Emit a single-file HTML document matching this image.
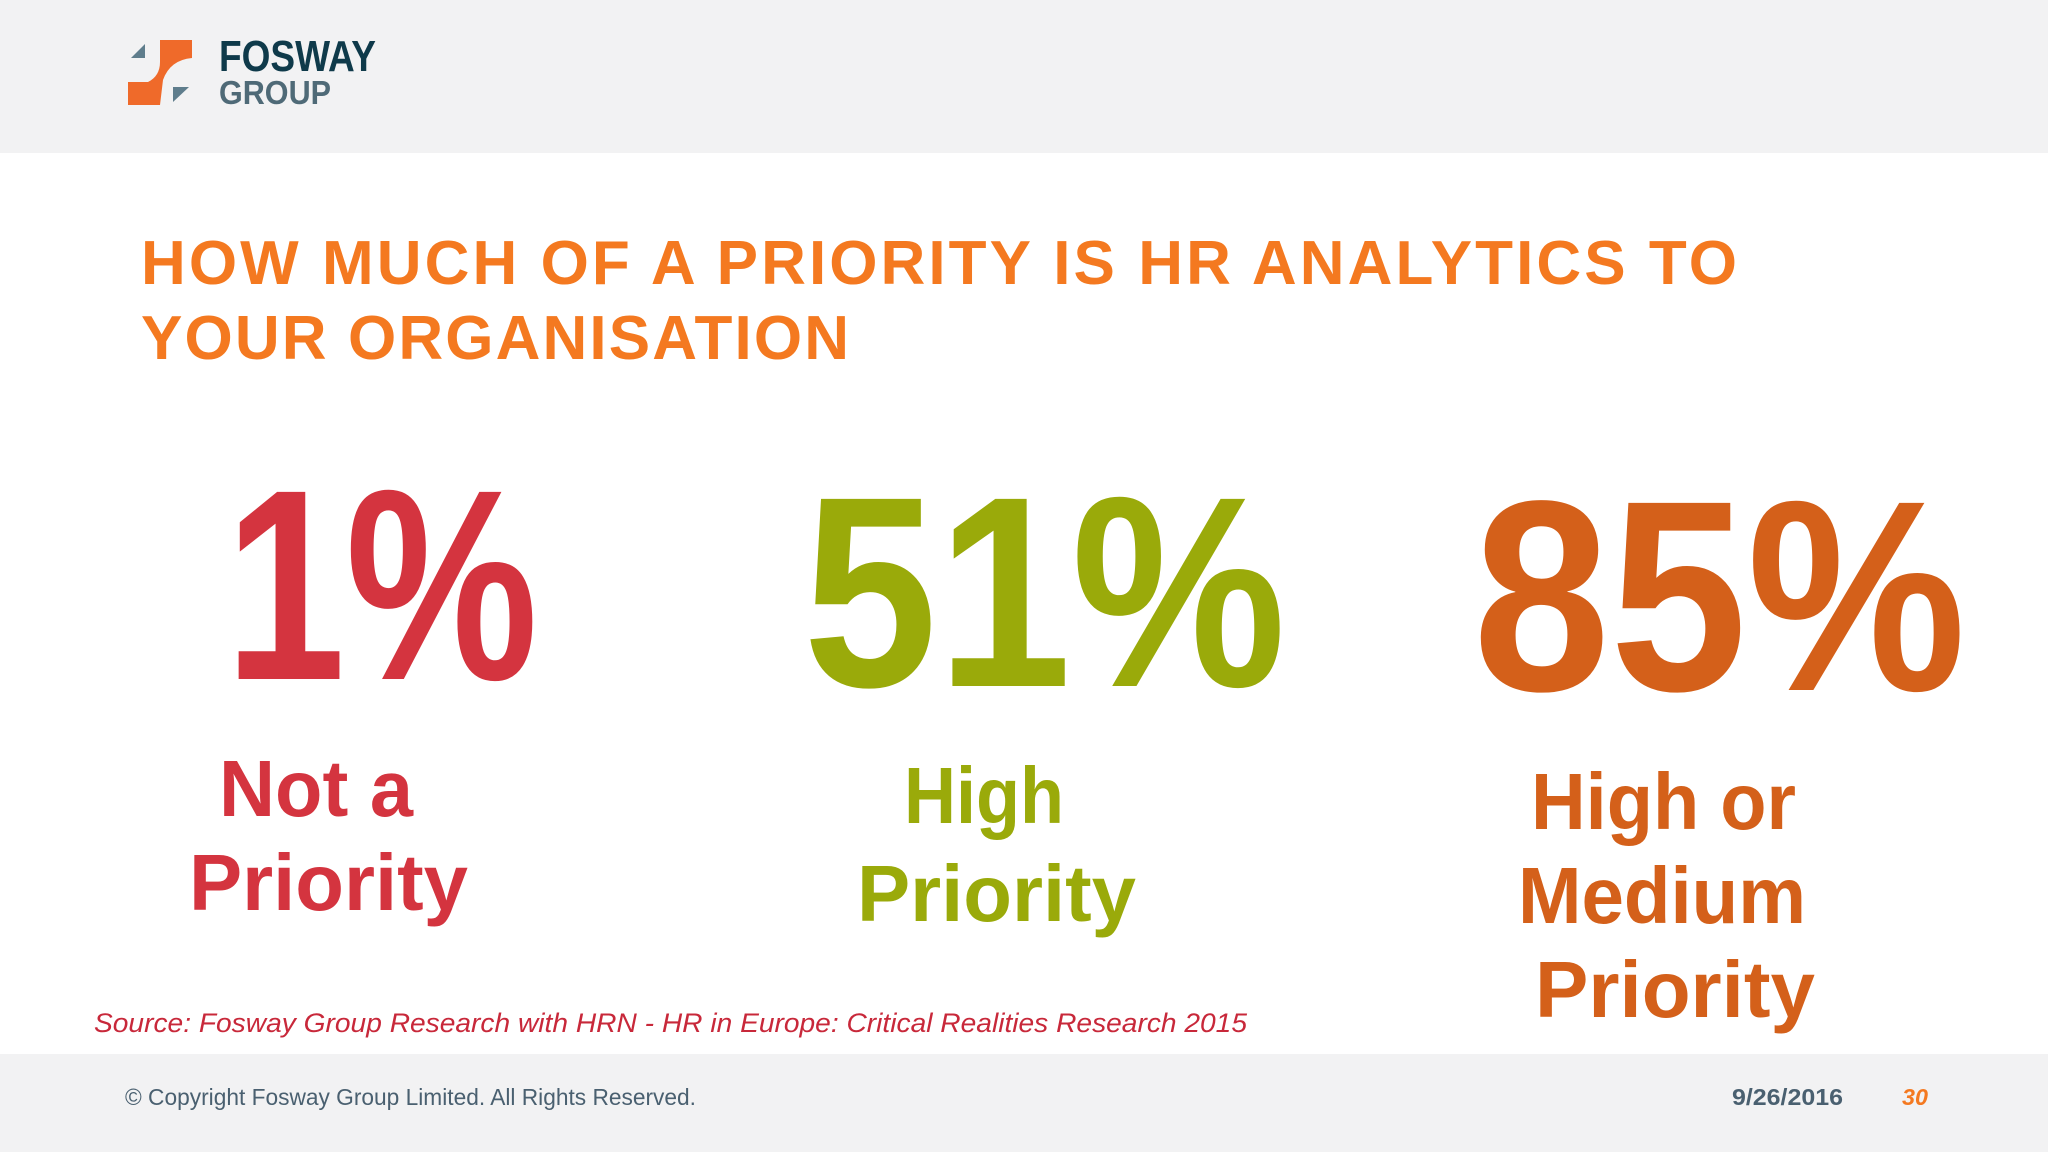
<!DOCTYPE html>
<html><head><meta charset="utf-8">
<style>
html,body{margin:0;padding:0;background:#fff;}
svg{display:block;}
</style></head>
<body>
<svg id="slide" width="2048" height="1152" viewBox="0 0 2048 1152" xmlns="http://www.w3.org/2000/svg" font-family="'Liberation Sans', sans-serif">
  <rect x="0" y="0" width="2048" height="153" fill="#f2f2f3"/>
  <rect x="0" y="1054" width="2048" height="98" fill="#f2f2f3"/>
  <g>
    <path d="M160,40 L192,40 L192,58 Q170,60 163,80 L160,105 L128,105 L128,82 L148,82 Q160,76 160,62 Z" fill="#ef6a2a"/>
    <path d="M131,58 L145,44 L145,58 Z" fill="#5f7d8c"/>
    <path d="M173,87 L189,87 L173,102 Z" fill="#5f7d8c"/>
    <text x="219" y="71" font-size="44" font-weight="bold" fill="#0f3a4a" textLength="157" lengthAdjust="spacingAndGlyphs">FOSWAY</text>
    <text x="219" y="104" font-size="33" font-weight="bold" fill="#4f6a77" textLength="112" lengthAdjust="spacingAndGlyphs">GROUP</text>
  </g>
  <g fill="#f47920" font-weight="bold" font-size="62">
    <text x="141" y="284" textLength="1596" lengthAdjust="spacing">HOW MUCH OF A PRIORITY IS HR ANALYTICS TO</text>
    <text x="141" y="359" textLength="708" lengthAdjust="spacing">YOUR ORGANISATION</text>
  </g>
  <g id="stats"></g>
  <text x="94" y="1032" font-size="27" font-style="italic" fill="#c8283a" textLength="1153" lengthAdjust="spacingAndGlyphs">Source: Fosway Group Research with HRN - HR in Europe: Critical Realities Research 2015</text>
  <text x="125" y="1105" font-size="23" fill="#4a6070" textLength="571" lengthAdjust="spacingAndGlyphs">© Copyright Fosway Group Limited. All Rights Reserved.</text>
  <text x="1732" y="1105" font-size="23" font-weight="bold" fill="#4a6070" textLength="111" lengthAdjust="spacingAndGlyphs">9/26/2016</text>
  <text x="1902" y="1105" font-size="23" font-weight="bold" font-style="italic" fill="#f47920" textLength="26" lengthAdjust="spacingAndGlyphs">30</text>
</svg>
<script>
const values = [1, 51, 85];
const labels = [["Not a","Priority"],["High","Priority"],["High or","Medium","Priority"]];
const colors = ["#d4343f","#9aaa0a","#d4601a"];
// layout (not data)
const numBox = [[225,538,679],[803,1286,686],[1473,1966,690]];
const labelBoxes = [
  [[219,413,816],[189,468,910]],
  [[904,1064,823],[857,1136,921]],
  [[1531,1796,829],[1518,1806,923],[1535,1815,1017]]
];
const NS="http://www.w3.org/2000/svg";
const g=document.getElementById('stats');
values.forEach((v,i)=>{
  const t=document.createElementNS(NS,'text');
  
  
  const b=numBox[i];
  t.setAttribute('x',b[0]);t.setAttribute('y',b[2]);
  t.setAttribute('font-size','272');t.setAttribute('font-weight','bold');
  t.setAttribute('fill',colors[i]);
  t.setAttribute('textLength',b[1]-b[0]);t.setAttribute('lengthAdjust','spacingAndGlyphs');
  t.textContent=v+'%';
  g.appendChild(t);
  labels[i].forEach((line,j)=>{
    const l=document.createElementNS(NS,'text');
    
    
    const lb=labelBoxes[i][j]||[b[0],b[1],b[2]+130+j*94];
    l.setAttribute('x',lb[0]);l.setAttribute('y',lb[2]);
    l.setAttribute('font-size','80');l.setAttribute('font-weight','bold');
    l.setAttribute('fill',colors[i]);
    l.setAttribute('textLength',lb[1]-lb[0]);l.setAttribute('lengthAdjust','spacingAndGlyphs');
    l.textContent=line;
    g.appendChild(l);
  });
});
</script>
</body></html>
